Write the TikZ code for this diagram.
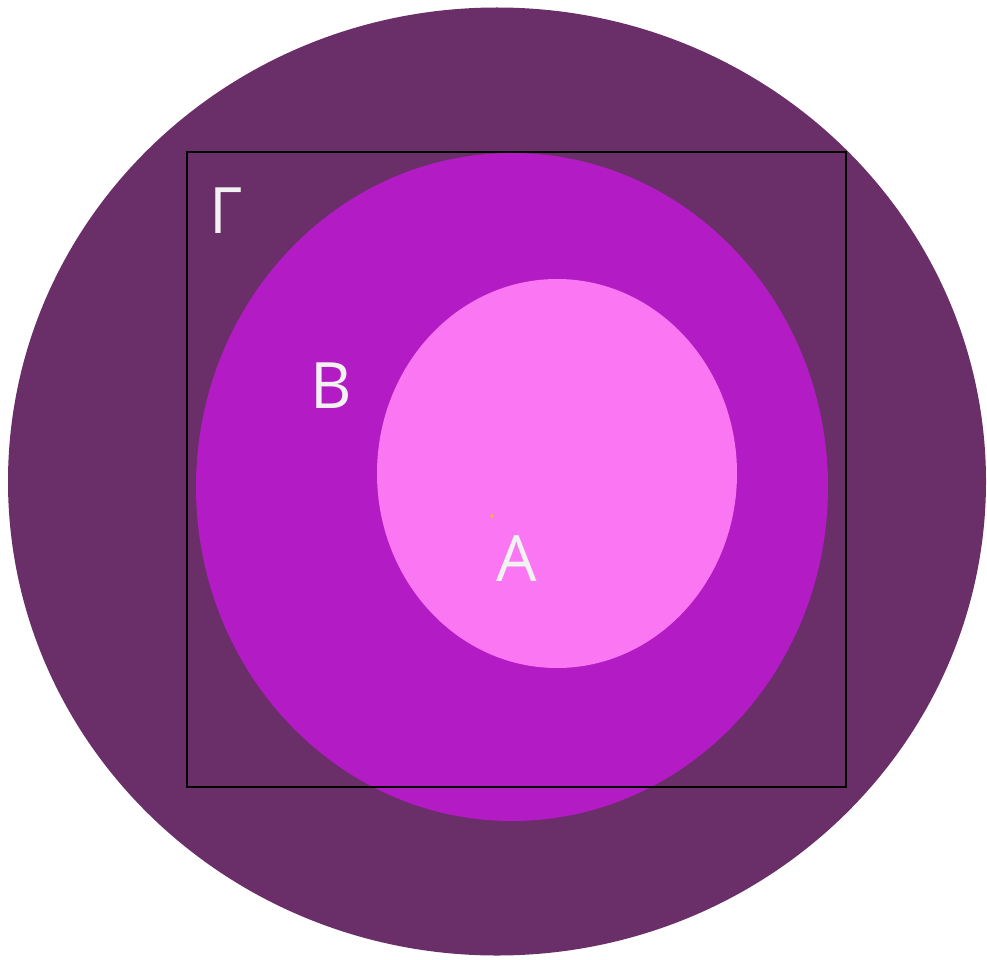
\documentclass[tikz,border=0pt]{standalone}
\usepackage{fontspec}
\setmainfont{Open Sans}
\definecolor{outerc}{RGB}{106,46,104}
\definecolor{midc}{RGB}{179,27,196}
\definecolor{innerc}{RGB}{250,118,242}
\definecolor{txtc}{RGB}{242,242,242}
\definecolor{dotc}{RGB}{235,190,30}
\begin{document}
\begin{tikzpicture}[x=1pt,y=-1pt,
  lbl/.style={text=txtc,inner sep=0pt,font=\fontsize{64}{64}\selectfont}]
\useasboundingbox (0,0) rectangle (987,960);
\fill[outerc] (497,481.5) ellipse [x radius=489, y radius=474];
\fill[midc] (512,487) ellipse [x radius=316, y radius=334];
\fill[innerc] (557,473.5) ellipse [x radius=180, y radius=194.5];
\draw[black,line width=1.6pt] (187,152) rectangle (846,787);
\fill[dotc] (492,516) circle [radius=1.8];
\node[lbl] (gamma) at (226,211) {Γ};
\node[lbl] (b) at (331,386) {B};
\node[lbl] (a) at (517,559) {A};
\end{tikzpicture}
\end{document}
